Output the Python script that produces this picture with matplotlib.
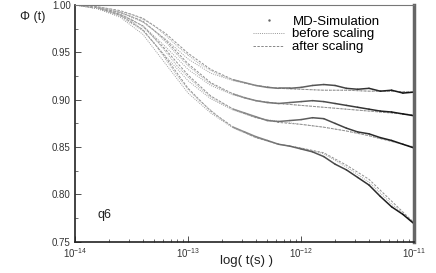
import numpy as np
import matplotlib
matplotlib.use('Agg')
import matplotlib.pyplot as plt
from matplotlib.ticker import MultipleLocator, LogLocator

plt.rcParams['font.family'] = ['Liberation Sans', 'DejaVu Sans']
plt.rcParams['mathtext.default'] = 'regular'

# log10 of time (s), MD-simulation grid
logt_md = [-14.0, -13.9, -13.8, -13.7, -13.6, -13.5, -13.4, -13.3, -13.2, -13.1,
           -13.0, -12.9, -12.8, -12.7, -12.6, -12.5, -12.4, -12.3, -12.2, -12.1,
           -12.0, -11.9, -11.8, -11.7, -11.6, -11.5, -11.4, -11.3, -11.2, -11.1, -11.0]

md1 = [1.000, 0.999, 0.998, 0.996, 0.993, 0.990, 0.985, 0.978, 0.968, 0.957,
       0.947, 0.938, 0.931, 0.925, 0.921, 0.918, 0.915, 0.913, 0.912, 0.912,
       0.913, 0.915, 0.916, 0.915, 0.912, 0.911, 0.912, 0.909, 0.910, 0.907, 0.908]
md2 = [1.000, 0.999, 0.997, 0.995, 0.992, 0.988, 0.982, 0.973, 0.961, 0.948,
       0.936, 0.926, 0.917, 0.911, 0.906, 0.902, 0.899, 0.897, 0.896, 0.897,
       0.898, 0.899, 0.898, 0.896, 0.894, 0.892, 0.890, 0.888, 0.887, 0.885, 0.883]
md3 = [1.000, 0.999, 0.997, 0.994, 0.990, 0.985, 0.977, 0.965, 0.951, 0.936,
       0.924, 0.913, 0.903, 0.896, 0.890, 0.886, 0.882, 0.878, 0.877, 0.878,
       0.879, 0.881, 0.880, 0.875, 0.870, 0.866, 0.864, 0.860, 0.857, 0.853, 0.849]
md4 = [1.000, 0.999, 0.997, 0.994, 0.989, 0.983, 0.973, 0.960, 0.943, 0.926,
       0.911, 0.899, 0.889, 0.879, 0.871, 0.866, 0.861, 0.857, 0.853, 0.851,
       0.848, 0.845, 0.840, 0.832, 0.826, 0.818, 0.810, 0.798, 0.787, 0.779, 0.769]

# fitted curves, coarser grid
logt_fit = [-14.0, -13.8, -13.6, -13.4, -13.2, -13.0, -12.8, -12.6, -12.4, -12.2,
            -12.0, -11.8, -11.6, -11.4, -11.2, -11.0]

before1 = [1.000, 0.997, 0.992, 0.982, 0.964, 0.943, 0.928, 0.920, 0.915, 0.912,
           0.911, 0.910, 0.910, 0.909, 0.909, 0.908]
after1 = [1.000, 0.998, 0.994, 0.986, 0.970, 0.949, 0.932, 0.921, 0.915, 0.912,
          0.911, 0.910, 0.910, 0.909, 0.909, 0.908]
before2 = [1.000, 0.996, 0.990, 0.978, 0.956, 0.932, 0.915, 0.905, 0.899, 0.896,
           0.894, 0.892, 0.890, 0.888, 0.886, 0.884]
after2 = [1.000, 0.997, 0.992, 0.983, 0.963, 0.938, 0.918, 0.906, 0.899, 0.896,
          0.894, 0.892, 0.890, 0.888, 0.886, 0.884]
before3 = [1.000, 0.996, 0.988, 0.973, 0.946, 0.920, 0.901, 0.889, 0.881, 0.877,
           0.874, 0.871, 0.867, 0.862, 0.856, 0.850]
after3 = [1.000, 0.997, 0.990, 0.978, 0.953, 0.926, 0.904, 0.890, 0.881, 0.876,
          0.874, 0.871, 0.867, 0.862, 0.856, 0.850]
before4 = [1.000, 0.996, 0.987, 0.969, 0.938, 0.907, 0.886, 0.870, 0.860, 0.853,
           0.849, 0.843, 0.829, 0.813, 0.790, 0.770]
after4 = [1.000, 0.997, 0.989, 0.974, 0.945, 0.912, 0.888, 0.871, 0.860, 0.853,
          0.849, 0.844, 0.831, 0.816, 0.793, 0.770]

xticks = [1e-14, 1e-13, 1e-12, 1e-11]

t_md = 10.0 ** np.array(logt_md)
t_fit = 10.0 ** np.array(logt_fit)

fig = plt.figure(figsize=(4.36, 2.73), dpi=100)
ax = fig.add_axes([0.172, 0.114, 0.778, 0.868])

for b, a in [(before1, after1), (before2, after2), (before3, after3), (before4, after4)]:
    ax.plot(t_fit, b, color='#a0a0a0', lw=0.7, ls=(0, (1, 1.2)))
    ax.plot(t_fit, a, color='#909090', lw=0.7, ls=(0, (2.5, 1.5)))

# MD data: sparse (light, dotted) at short times, dense (dark) at long times
n = len(logt_md)
for md in [md1, md2, md3, md4]:
    for i in range(n - 1):
        f = (logt_md[i] + 14.0) / 3.0
        if f < 0.45:
            ax.plot(t_md[i:i + 2], md[i:i + 2], color='#aaaaaa', lw=0.7, ls=(0, (1, 1)))
        else:
            g = 0.58 - 0.55 * (f - 0.45) / 0.55
            ax.plot(t_md[i:i + 2], md[i:i + 2], color=str(g), lw=1.1,
                    solid_capstyle='round')

# legend entries
ax.plot([], [], ls='none', marker='.', ms=1.5, color='#666666', label='MD-Simulation')
ax.plot([], [], color='#999999', lw=0.7, ls=(0, (1, 1.2)), label='before scaling')
ax.plot([], [], color='#888888', lw=0.7, ls=(0, (2.5, 1.5)), label='after scaling')
ax.legend(loc='upper right', bbox_to_anchor=(0.925, 0.995), frameon=False, fontsize=9.5,
          handlelength=2.4, labelspacing=0.05, borderpad=0.2, handletextpad=0.6)

ax.set_xscale('log')
ax.set_xlim(1e-14, 1e-11)
ax.set_ylim(0.75, 1.0)
ax.set_xticks(xticks)
ax.yaxis.set_major_locator(MultipleLocator(0.05))
ax.yaxis.set_minor_locator(MultipleLocator(0.025))
ax.yaxis.set_major_formatter(matplotlib.ticker.FormatStrFormatter('%.2f'))
ax.xaxis.set_minor_locator(LogLocator(base=10, subs=np.arange(2, 10)))
ax.xaxis.set_minor_formatter(matplotlib.ticker.NullFormatter())
ax.tick_params(which='both', direction='in', labelsize=7, colors='#333333')
ax.tick_params(which='major', length=4, width=0.6)
ax.tick_params(which='minor', length=2, width=0.5)
ax.tick_params(axis='x', pad=3)
ax.tick_params(axis='y', pad=3)

for s in ['left', 'bottom']:
    ax.spines[s].set_color('#222222')
    ax.spines[s].set_linewidth(1.2)
ax.spines['top'].set_color('#777777')
ax.spines['top'].set_linewidth(0.8)
ax.spines['right'].set_color('#666666')
ax.spines['right'].set_linewidth(2.5)

fig.text(0.045, 0.925, 'Φ (t)', fontsize=9, color='#222222')
ax.text(0.065, 0.10, 'q6', transform=ax.transAxes, fontsize=9, color='#222222')
fig.text(0.565, 0.022, 'log( t(s) )', fontsize=9.5, ha='center', va='bottom', color='#222222')

fig.savefig('out.png', dpi=100)
